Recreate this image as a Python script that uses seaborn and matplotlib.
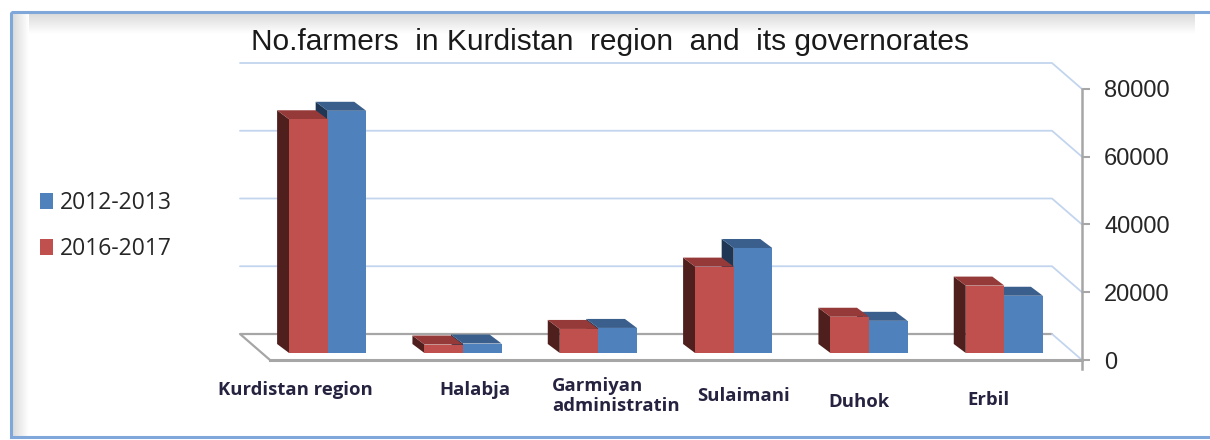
import numpy as np
import pandas as pd
import matplotlib
matplotlib.use('Agg')
import matplotlib.pyplot as plt
import seaborn as sns
from matplotlib.patches import Polygon, Patch, Rectangle
from matplotlib.transforms import blended_transform_factory

# data
regions = ['Kurdistan region', 'Halabja', 'Garmiyan\nadministratin', 'Sulaimani', 'Duhok', 'Erbil']
farmers_2012_13 = [71500, 2800, 7400, 31000, 9500, 16900]
farmers_2016_17 = [69000, 2500, 7100, 25500, 10700, 19900]
periods = ['2012-2013', '2016-2017']
y_ticks = [0, 20000, 40000, 60000, 80000]

title = 'No.farmers  in Kurdistan  region  and  its governorates'

# colours (front, top, side)
colors = {
    '2016-2017': ('#C0504D', '#953A38', '#4F1F1E'),
    '2012-2013': ('#4F81BD', '#3A5F8C', '#1F3654'),
}

df = pd.DataFrame({
    'region': regions * 2,
    'farmers': farmers_2012_13 + farmers_2016_17,
    'period': [periods[0]] * len(regions) + [periods[1]] * len(regions),
})

W, H = 1210, 440
sns.set_style('white')
plt.rcParams['font.family'] = ['Liberation Sans', 'DejaVu Sans']

fig = plt.figure(figsize=(W / 100, H / 100), dpi=100)

# frame / background decoration
bg = fig.add_axes([0, 0, 1, 1])
bg.axis('off')
top_grad = np.linspace(0.85, 1.0, 50).reshape(-1, 1)
bg.imshow(np.repeat(top_grad, 2, axis=1), cmap='gray', vmin=0, vmax=1,
          extent=(12, 1195, 34, 13), aspect='auto')
left_grad = np.linspace(0.85, 1.0, 50).reshape(1, -1)
bg.imshow(np.repeat(left_grad, 2, axis=0), cmap='gray', vmin=0, vmax=1,
          extent=(12, 29, 436, 13), aspect='auto')
bg.add_patch(Rectangle((11, 12), 1220, 425, fill=False, edgecolor='#7FA7DA', lw=2.2))
bg.set_xlim(0, W)
bg.set_ylim(H, 0)

# plot area: front plane
x0_px, x1_px = 270, 1082
y0_px, y80_px = 360, 89
ax = fig.add_axes([x0_px / W, (H - y0_px) / H, (x1_px - x0_px) / W, (y0_px - y80_px) / H])
ax.patch.set_alpha(0)

sns.barplot(data=df, x='region', y='farmers', hue='period',
            hue_order=['2016-2017', '2012-2013'],
            palette={p: colors[p][0] for p in periods},
            width=0.57, saturation=1, legend=False, ax=ax)

ax.set_xlim(-0.5, len(regions) - 0.5)
ax.set_ylim(0, 80000)

px_x = (x1_px - x0_px) / len(regions)     # pixels per category
px_y = (y0_px - y80_px) / 80000           # pixels per unit


def dxy(dx_px, dy_px):
    return dx_px / px_x, dy_px / px_y


gdx, gdy = dxy(-30, 26)   # back wall offset
fdx, fdy = dxy(-10, 7)    # bar front offset
bdx, bdy = dxy(-12, 9)    # bar depth

xl, xr = -0.5, len(regions) - 0.5

# back wall gridlines + side wall
for t in y_ticks[1:]:
    ax.plot([xl + gdx, xr + gdx, xr], [t + gdy, t + gdy, t],
            color='#C3D5EE', lw=1.3, clip_on=False, zorder=1)
# floor
ax.plot([xr + gdx, xl + gdx, xl], [gdy, gdy, 0], color='#A6A6A6', lw=1.6,
        clip_on=False, zorder=1)
ax.plot([xr + gdx, xr], [gdy, 0], color='#C3D5EE', lw=1.3, clip_on=False, zorder=1)

# 3d faces for the bars
for period, cont in zip(['2016-2017', '2012-2013'], ax.containers):
    front, top, side = colors[period]
    base_z = 3 if period == '2016-2017' else 2
    for bar in cont:
        bar.set_x(bar.get_x() + fdx)
        bar.set_y(fdy)
        bar.set_edgecolor('none')
        bar.set_zorder(base_z + 0.3)
        bar.set_clip_on(False)
        x0 = bar.get_x()
        x1 = x0 + bar.get_width()
        y0 = bar.get_y()
        y1 = y0 + bar.get_height()
        ax.add_patch(Polygon([[x0, y0], [x0, y1], [x0 + bdx, y1 + bdy], [x0 + bdx, y0 + bdy]],
                             closed=True, facecolor=side, edgecolor='none',
                             zorder=base_z + 0.1, clip_on=False))
        ax.add_patch(Polygon([[x0, y1], [x1, y1], [x1 + bdx, y1 + bdy], [x0 + bdx, y1 + bdy]],
                             closed=True, facecolor=top, edgecolor='none',
                             zorder=base_z + 0.2, clip_on=False))

# axes styling
for s in ['top', 'left']:
    ax.spines[s].set_visible(False)
ax.spines['bottom'].set_color('#A6A6A6')
ax.spines['bottom'].set_linewidth(2.2)
ax.spines['right'].set_color('#A6A6A6')
ax.spines['right'].set_linewidth(1.8)
ax.spines['right'].set_bounds(-2800, 80000)
ax.spines['right'].set_zorder(5)

ax.yaxis.tick_right()
ax.set_yticks(y_ticks)
ax.set_yticklabels([str(t) for t in y_ticks])
ax.tick_params(axis='y', which='major', direction='out', length=6, width=1.5,
               color='#A6A6A6', labelsize=17, labelcolor='#262626', pad=10,
               left=False, right=True)

ax.set_xticks(np.arange(-0.5, len(regions), 1), minor=True)
ax.set_xticks(range(len(regions)))
ax.set_xticklabels([''] * len(regions))
ax.tick_params(axis='x', which='major', length=0)
ax.tick_params(axis='x', which='minor', direction='out', length=7, width=1.5,
               color='#A6A6A6')
ax.set_xlabel('')
ax.set_ylabel('')
ax.grid(False)

# category labels, staggered like the original
label_dx_px = [-42, 2, -56, 0, -20, -26]
label_y_px = [390, 390, 396, 396, 402, 400]
label_ha = ['center', 'center', 'left', 'center', 'center', 'center']
trans = blended_transform_factory(ax.transData, fig.transFigure)
for i, name in enumerate(regions):
    ax.text(i + label_dx_px[i] / px_x, 1 - label_y_px[i] / H, name,
            transform=trans, ha=label_ha[i], va='center', ma='left',
            fontsize=13.3, fontweight='bold', color='#262340',
            family=['Open Sans', 'DejaVu Sans'], linespacing=1.1)

# legend
handles = [Patch(facecolor=colors[p][0], edgecolor='none') for p in periods]
fig.legend(handles, periods, loc='center left', bbox_to_anchor=(19 / W, 1 - 226 / H),
           frameon=False, handlelength=0.6, handleheight=0.7,
           handletextpad=0.3, labelspacing=1.0,
           prop={'family': ['Open Sans', 'DejaVu Sans'], 'size': 16.5})

fig.suptitle(title, x=610 / W, y=1 - 42 / H, va='center', fontsize=21.5, color='#1a1a1a')

fig.savefig('out.png', dpi=100)
